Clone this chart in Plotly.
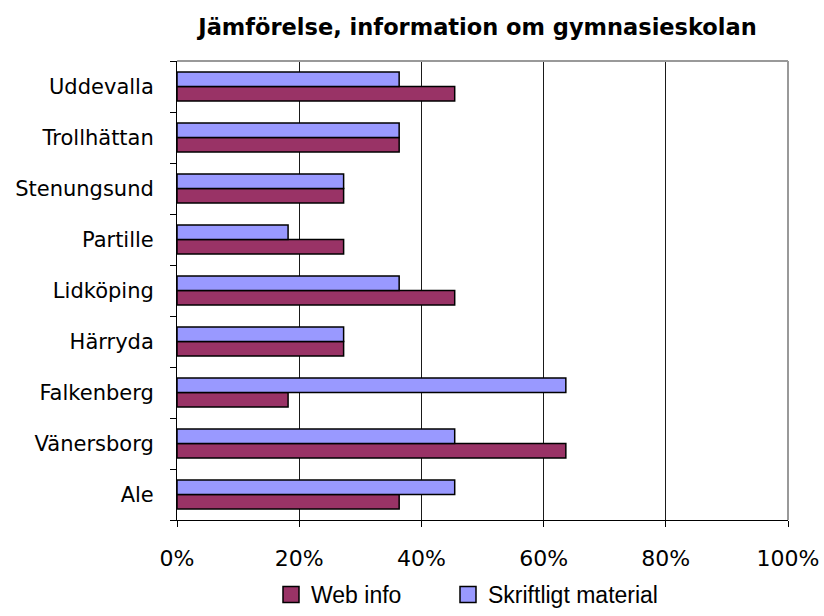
import plotly.graph_objects as go

categories = ["Ale", "Vänersborg", "Falkenberg", "Härryda", "Lidköping",
              "Partille", "Stenungsund", "Trollhättan", "Uddevalla"]
web_info = [0.3636, 0.6364, 0.1818, 0.2727, 0.4545, 0.2727, 0.2727, 0.3636, 0.4545]
skriftligt = [0.4545, 0.4545, 0.6364, 0.2727, 0.3636, 0.1818, 0.2727, 0.3636, 0.3636]
x_ticks = [0, 0.2, 0.4, 0.6, 0.8, 1.0]
x_ticklabels = ["0%", "20%", "40%", "60%", "80%", "100%"]

WEB_COLOR = "#993366"
SKR_COLOR = "#9999FF"
FONT = "DejaVu Sans"
LEG_FONT = "Liberation Sans"

fig = go.Figure()
fig.add_trace(go.Bar(y=categories, x=web_info, orientation="h", name="Web info",
                     marker=dict(color=WEB_COLOR, line=dict(color="black", width=1.5)),
                     showlegend=False))
fig.add_trace(go.Bar(y=categories, x=skriftligt, orientation="h", name="Skriftligt material",
                     marker=dict(color=SKR_COLOR, line=dict(color="black", width=1.5)),
                     showlegend=False))
# legend entries
fig.add_trace(go.Scatter(x=[None], y=[None], mode="markers", name="Web info",
                         legend="legend",
                         marker=dict(symbol="square", size=16, color=WEB_COLOR,
                                     line=dict(color="black", width=1.5))))
fig.add_trace(go.Scatter(x=[None], y=[None], mode="markers", name="Skriftligt material",
                         legend="legend2",
                         marker=dict(symbol="square", size=16, color=SKR_COLOR,
                                     line=dict(color="black", width=1.5))))

legend_common = dict(orientation="h", xanchor="left", xref="container",
                     yref="container", y=-5 / 616, yanchor="bottom",
                     font=dict(family=LEG_FONT, size=23), bgcolor="rgba(0,0,0,0)")

fig.update_layout(
    width=824, height=616,
    margin=dict(l=177, r=36, t=61, b=96, autoexpand=False),
    paper_bgcolor="white", plot_bgcolor="white",
    font=dict(family=FONT, color="black", size=21),
    title=dict(text="<b>Jämförelse, information om gymnasieskolan</b>",
               font=dict(family=FONT, size=22.5, color="black"),
               x=477.5 / 824, xanchor="center", xref="container",
               y=1 - 27 / 616, yanchor="middle", yref="container"),
    barmode="group", bargap=0.43, bargroupgap=0,
    showlegend=True,
    legend=dict(legend_common, x=271 / 824),
    legend2=dict(legend_common, x=448 / 824),
)
fig.update_xaxes(range=[0, 1], tickvals=x_ticks, ticktext=x_ticklabels,
                 showgrid=True, gridcolor="#1a1a1a", gridwidth=1,
                 showline=True, linecolor="black", linewidth=1,
                 ticks="outside", ticklen=6, tickcolor="black", ticklabelstandoff=13,
                 automargin=False,
                 tickfont=dict(family=FONT, size=22), zeroline=False, fixedrange=True)
fig.update_yaxes(type="category", categoryorder="array", categoryarray=categories,
                 showgrid=False, showline=True, linecolor="black", linewidth=1,
                 ticks="outside", ticklen=6, tickcolor="black", tickson="boundaries",
                 ticklabelstandoff=18, automargin=False,
                 tickfont=dict(family=FONT, size=21), fixedrange=True)
# gray plot-area border (top and right)
fig.add_shape(type="line", xref="paper", yref="paper", x0=0, x1=1, y0=1, y1=1,
              line=dict(color="#999999", width=2), layer="above")
fig.add_shape(type="line", xref="paper", yref="paper", x0=1, x1=1, y0=0, y1=1,
              line=dict(color="#999999", width=2), layer="above")

fig.write_html("out.html")
